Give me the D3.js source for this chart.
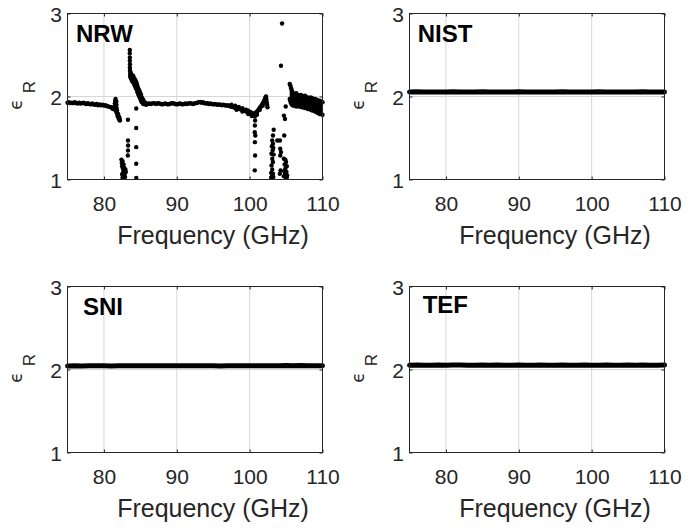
<!DOCTYPE html>
<html>
<head>
<meta charset="utf-8">
<script src="https://cdn.jsdelivr.net/npm/d3@7/dist/d3.min.js"></script>
<style>
    body { margin: 0; background: #fff; }
    svg text { font-family: "Liberation Sans", Arial, Helvetica, sans-serif; }
</style>
</head>
<body>
<script>
"use strict";

// axis ticks and names
const freqTicks = [80, 90, 100, 110];
const epsTicks = [1, 2, 3];
const freqDomain = [75, 110];
const epsDomain = [1, 3];
const panelNames = ["NRW", "NIST", "SNI", "TEF"];

// NRW: main band of the scatter, [GHz, eps]
const nrwBand = [
    [75.0,1.925],[75.2,1.93],[75.4,1.92],[75.6,1.925],[75.8,1.92],[76.0,1.93],[76.2,1.92],[76.4,1.915],
    [76.6,1.925],[76.8,1.915],[77.0,1.92],[77.2,1.925],[77.4,1.915],[77.6,1.91],[77.8,1.92],[78.0,1.91],
    [78.2,1.905],[78.4,1.915],[78.6,1.905],[78.8,1.90],[79.0,1.91],[79.2,1.895],[79.4,1.905],[79.6,1.895],
    [79.8,1.90],[80.0,1.89],[80.2,1.895],[80.4,1.885],[80.6,1.88],[80.8,1.875],[81.0,1.87],[81.1,1.86],
    [81.2,1.855],[81.3,1.85],[81.4,1.845],[81.45,1.88],[81.5,1.92],[81.55,1.95],[81.6,1.97],[81.6,1.93],
    [81.62,1.89],[81.65,1.85],[81.68,1.82],[81.7,1.94],[81.72,1.90],[81.75,1.86],[81.78,1.80],[81.8,1.83],
    [81.85,1.78],[81.9,1.76],[81.95,1.79],[82.0,1.74],[82.05,1.76],[82.1,1.72],[82.15,1.74],[82.2,1.71],
    [83.6,2.30],[83.6,2.27],[83.6,2.24],[83.7,2.28],[83.7,2.25],[83.7,2.22],[83.8,2.26],[83.8,2.23],[83.8,2.20],
    [83.9,2.24],[83.9,2.21],[83.9,2.18],[84.0,2.25],[84.0,2.22],[84.0,2.19],[84.1,2.23],[84.1,2.20],[84.1,2.16],
    [84.2,2.21],[84.2,2.18],[84.2,2.14],[84.3,2.20],[84.3,2.16],[84.3,2.12],[84.4,2.18],[84.4,2.14],[84.4,2.10],
    [84.5,2.16],[84.5,2.12],[84.5,2.08],[84.6,2.13],[84.6,2.09],[84.6,2.05],[84.7,2.10],[84.7,2.06],[84.7,2.03],
    [84.8,2.08],[84.8,2.04],[84.8,2.01],[84.9,2.06],[84.9,2.02],[84.9,1.99],[85.0,2.04],[85.0,2.00],[85.0,1.97],
    [85.1,2.02],[85.1,1.98],[85.1,1.95],[85.2,1.99],[85.2,1.96],[85.2,1.93],[85.4,1.96],[85.4,1.93],[85.4,1.91],
    [85.6,1.93],[85.6,1.91],[85.8,1.92],[85.8,1.90],[86.0,1.91],
    [86.2,1.915],[86.4,1.91],[86.6,1.915],[86.8,1.92],[87.0,1.915],[87.2,1.91],[87.4,1.92],[87.6,1.915],
    [87.8,1.91],[88.0,1.905],[88.2,1.91],[88.4,1.915],[88.6,1.91],[88.8,1.905],[89.0,1.91],[89.2,1.915],
    [89.4,1.92],[89.6,1.915],[89.8,1.91],[90.0,1.905],[90.2,1.91],[90.4,1.915],[90.6,1.91],[90.8,1.905],
    [91.0,1.91],[91.2,1.915],[91.4,1.91],[91.6,1.915],[91.8,1.92],[92.0,1.915],[92.2,1.91],[92.4,1.915],
    [92.6,1.92],[92.8,1.925],[93.0,1.93],[93.2,1.935],[93.4,1.925],[93.6,1.93],[93.8,1.92],[94.0,1.915],
    [94.2,1.92],[94.4,1.91],[94.6,1.915],[94.8,1.91],[95.0,1.905],[95.2,1.91],[95.4,1.905],[95.6,1.90],
    [95.8,1.905],[96.0,1.90],[96.2,1.895],[96.4,1.90],[96.6,1.895],[96.8,1.89],[97.0,1.895],[97.2,1.885],
    [97.4,1.88],[97.6,1.875],[97.8,1.87],[98.0,1.865],[98.2,1.86],[98.4,1.855],[98.6,1.85],[98.8,1.845],
    [99.0,1.84],[99.2,1.83],[99.4,1.825],[99.6,1.815],[99.8,1.81],[100.0,1.80],[100.2,1.79],[100.4,1.78],
    [100.6,1.775],[100.8,1.785],[101.0,1.805],[101.2,1.835],[101.4,1.865],[101.6,1.885],[101.8,1.915],
    [102.0,1.95],[102.1,1.975],[102.2,1.995],[102.25,2.00],[102.3,1.97],[102.35,1.93],[102.4,1.90],[102.45,1.87],
    [97.5,1.90],[98.0,1.89],[98.5,1.875],[99.0,1.86],[99.5,1.84],[99.8,1.83],[100.1,1.815],[100.4,1.80],
    [100.6,1.795],[100.9,1.81],[101.1,1.83],[101.3,1.85],[101.5,1.875],[101.7,1.90],[101.9,1.93],[102.1,1.955],
    [98.2,1.84],[99.0,1.82],[99.8,1.79],[100.3,1.765],[100.7,1.76],[101.0,1.78],[101.4,1.84],[101.8,1.89],[102.2,1.96]
];

// NRW: stray points away from the band, [GHz, eps]
const nrwStray = [
    [82.4,1.24],[82.45,1.20],[82.5,1.16],[82.55,1.22],[82.6,1.13],[82.7,1.18],[82.75,1.10],[82.6,1.08],
    [82.7,1.05],[82.8,1.14],[82.85,1.07],[82.9,1.03],[82.95,1.12],[83.0,1.09],[82.5,1.06],[82.55,1.02],
    [83.3,1.72],[83.3,1.47],[83.32,1.41],[83.3,1.35],[83.28,1.29],
    [83.55,2.56],[83.55,2.52],[83.56,2.47],[83.55,2.43],[83.57,2.39],[83.56,2.35],[83.58,2.32],
    [84.43,1.855],[84.43,1.62],[84.43,1.39],[84.43,1.19],[84.44,1.02],
    [100.75,1.77],[100.75,1.71],[100.72,1.65],[100.7,1.57],[100.78,1.53],[100.72,1.45],[100.75,1.29],[100.7,1.11],
    [103.3,1.60],[103.2,1.53],[103.1,1.47],[103.2,1.43],[103.05,1.40],[103.25,1.38],[103.15,1.35],[103.0,1.31],
    [103.3,1.30],[103.1,1.25],[103.2,1.21],[103.0,1.17],[103.1,1.12],[102.95,1.08],[103.2,1.07],[103.05,1.04],
    [103.25,1.03],[102.95,1.02],
    [103.8,1.47],[104.15,1.47],[104.2,1.37],[104.3,1.33],[104.2,1.29],[104.25,1.11],[104.15,1.07],
    [104.45,2.88],[104.3,2.37],
    [104.7,1.77],[104.85,1.73],[104.95,1.88],[104.75,1.53],
    [104.7,1.25],[104.9,1.24],[105.0,1.21],[104.8,1.18],[105.1,1.16],[104.9,1.13],[104.75,1.10],[105.05,1.09],
    [104.85,1.06],[105.15,1.05],[104.95,1.03],[105.1,1.02],[104.7,1.04]
];

// NRW: wide noisy tail above 105.5 GHz, upper and lower edge of the cloud
const nrwTailFreq = [105.5,105.6,105.7,105.8,106.0,106.2,106.4,106.6,106.8,107.0,107.2,107.4,107.6,
    107.8,108.0,108.2,108.4,108.6,108.8,109.0,109.2,109.4,109.6,109.8,110.0];
const nrwTailHi = [2.15,2.13,2.10,2.07,2.04,2.03,2.04,2.02,2.01,2.02,2.01,2.00,2.01,
    1.99,1.99,1.98,1.99,1.98,1.97,1.97,1.96,1.95,1.95,1.94,1.93];
const nrwTailLo = [1.97,1.94,1.92,1.90,1.89,1.89,1.88,1.89,1.88,1.88,1.87,1.87,1.86,
    1.86,1.85,1.85,1.84,1.83,1.83,1.82,1.81,1.80,1.79,1.79,1.78];

// NIST, SNI, TEF: nearly flat results, one value per GHz
const flatFreq = [75,76,77,78,79,80,81,82,83,84,85,86,87,88,89,90,91,92,93,94,95,96,97,98,99,
    100,101,102,103,104,105,106,107,108,109,110];
const nistEps = [2.055,2.056,2.055,2.054,2.055,2.055,2.056,2.055,2.054,2.055,2.056,2.055,2.055,2.054,
    2.055,2.056,2.055,2.055,2.054,2.055,2.055,2.056,2.055,2.054,2.055,2.055,2.056,2.055,2.055,2.054,
    2.055,2.055,2.056,2.055,2.054,2.055];
const sniEps = [2.043,2.044,2.043,2.044,2.045,2.044,2.043,2.044,2.045,2.046,2.045,2.044,2.045,2.046,
    2.045,2.045,2.044,2.045,2.044,2.045,2.044,2.043,2.044,2.045,2.044,2.044,2.045,2.046,2.045,2.046,
    2.047,2.046,2.047,2.046,2.045,2.046];
const tefEps = [2.052,2.053,2.052,2.052,2.053,2.052,2.053,2.053,2.052,2.052,2.053,2.052,2.053,2.052,
    2.052,2.053,2.052,2.052,2.053,2.052,2.052,2.053,2.052,2.052,2.053,2.052,2.052,2.053,2.052,2.052,
    2.053,2.052,2.053,2.052,2.052,2.053];

// layout
const measurements = { width: 692, height: 528, panelW: 255, panelH: 166 };
const panels = [
    { left: 67.5,  top: 13.5,  nameDx: 8.5,  nameDy: 28.5 },
    { left: 409.5, top: 13.5,  nameDx: 8.2,  nameDy: 28.5 },
    { left: 67.5,  top: 286.5, nameDx: 15.5, nameDy: 28.5 },
    { left: 409.5, top: 286.5, nameDx: 13.2, nameDy: 26.5 }
];
const ink = "#262626";
const gridColor = "#d7d7d7";

const svg = d3.select("body").append("svg")
    .attr("width", measurements.width)
    .attr("height", measurements.height);

const scaleX = d3.scaleLinear().domain(freqDomain).range([0, measurements.panelW]);
const scaleY = d3.scaleLinear().domain(epsDomain).range([measurements.panelH, 0]);

panels.forEach(function (p, i) {
    const g = svg.append("g").attr("transform", "translate(" + p.left + "," + p.top + ")");
    drawGrid(g);
    if (i === 0) {
        drawNrw(g);
    } else {
        drawFlat(g, [nistEps, sniEps, tefEps][i - 1]);
    }
    drawAxes(g);
    // panel name
    g.append("text")
        .attr("x", p.nameDx)
        .attr("y", p.nameDy)
        .attr("font-size", 24)
        .attr("font-weight", "bold")
        .attr("fill", "#000")
        .text(panelNames[i]);
});

function drawGrid(g) {
    g.append("g").selectAll("line.vx")
        .data(freqTicks)
        .enter().append("line")
        .attr("x1", d => scaleX(d)).attr("x2", d => scaleX(d))
        .attr("y1", 0).attr("y2", measurements.panelH)
        .attr("stroke", gridColor).attr("stroke-width", 1);
    g.append("g").selectAll("line.hy")
        .data(epsTicks)
        .enter().append("line")
        .attr("x1", 0).attr("x2", measurements.panelW)
        .attr("y1", d => scaleY(d)).attr("y2", d => scaleY(d))
        .attr("stroke", gridColor).attr("stroke-width", 1);
}

function drawAxes(g) {
    const w = measurements.panelW, h = measurements.panelH;

    const xAxis = d3.axisBottom(scaleX).tickValues(freqTicks).tickSize(-3).tickSizeOuter(0)
        .tickFormat(d3.format("d"));
    const gx = g.append("g").attr("transform", "translate(0," + h + ")").call(xAxis);
    gx.select(".domain").remove();
    gx.attr("font-size", 21).attr("font-family", null).attr("color", ink);
    gx.selectAll("text").attr("y", 31).attr("dy", 0);

    const yAxis = d3.axisLeft(scaleY).tickValues(epsTicks).tickSize(-3).tickSizeOuter(0)
        .tickFormat(d3.format("d"));
    const gy = g.append("g").call(yAxis);
    gy.select(".domain").remove();
    gy.attr("font-size", 21).attr("font-family", null).attr("color", ink);
    gy.selectAll("text").attr("x", -5.5).attr("dy", "0.36em");

    // ticks on the top and right side, no labels
    const gt = g.append("g")
        .call(d3.axisTop(scaleX).tickValues(freqTicks).tickSize(-3).tickFormat(""));
    gt.select(".domain").remove();
    gt.attr("color", ink);
    const gr = g.append("g").attr("transform", "translate(" + w + ",0)")
        .call(d3.axisRight(scaleY).tickValues(epsTicks).tickSize(-3).tickFormat(""));
    gr.select(".domain").remove();
    gr.attr("color", ink);

    // box
    g.append("rect")
        .attr("width", w).attr("height", h)
        .attr("fill", "none").attr("stroke", ink).attr("stroke-width", 1);

    // x label (sits a little right of the axis centre in the original)
    g.append("text")
        .attr("x", w / 2 + 18).attr("y", h + 64)
        .attr("text-anchor", "middle")
        .attr("font-size", 25)
        .attr("fill", ink)
        .text("Frequency (GHz)");

    // y label: epsilon with subscript R
    const cy = h / 2;
    g.append("text")
        .attr("transform", "translate(-45.5," + (cy + 8) + ") rotate(-90)")
        .attr("text-anchor", "middle")
        .attr("font-size", 17)
        .style("font-family", "'DejaVu Sans', sans-serif")
        .attr("fill", ink)
        .text("\u03F5");
    g.append("text")
        .attr("transform", "translate(-32.5," + (cy - 9.5) + ") rotate(-90)")
        .attr("text-anchor", "middle")
        .attr("font-size", 17)
        .attr("fill", ink)
        .text("R");
}

function drawNrw(g) {
    const tail = nrwTailFreq.map((f, k) => ({ f: f, hi: nrwTailHi[k], lo: nrwTailLo[k] }));
    g.append("path")
        .datum(tail)
        .attr("fill", "#000")
        .attr("d", d3.area().x(d => scaleX(d.f)).y0(d => scaleY(d.lo)).y1(d => scaleY(d.hi)));

    const tailDots = tail.map(d => [d.f, d.hi]).concat(tail.map(d => [d.f, d.lo]));
    const allDots = nrwBand.concat(nrwStray, tailDots);

    g.append("g").selectAll("circle")
        .data(allDots)
        .enter().append("circle")
        .attr("cx", d => scaleX(d[0]))
        .attr("cy", d => scaleY(d[1]))
        .attr("r", 2.2)
        .attr("fill", "#000");
}

function drawFlat(g, values) {
    const pts = flatFreq.map((f, k) => [f, values[k]]);
    g.append("path")
        .datum(pts)
        .attr("fill", "none")
        .attr("stroke", "#000")
        .attr("stroke-width", 5)
        .attr("stroke-linecap", "round")
        .attr("d", d3.line().x(d => scaleX(d[0])).y(d => scaleY(d[1])));
}
</script>
</body>
</html>
